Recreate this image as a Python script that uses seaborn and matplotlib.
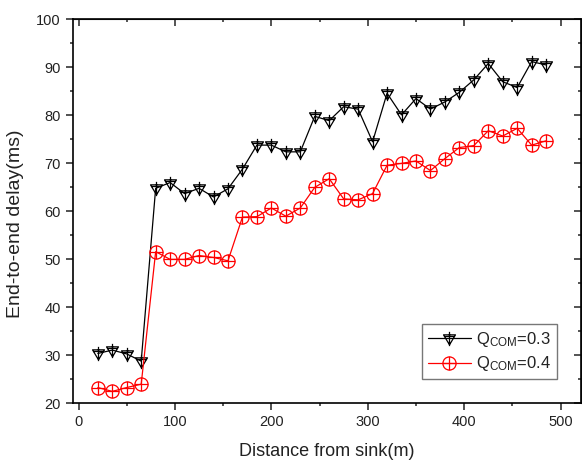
import numpy as np
import pandas as pd
import matplotlib
matplotlib.use('Agg')
import matplotlib.pyplot as plt
from matplotlib.path import Path
from matplotlib.ticker import MultipleLocator
import seaborn as sns

# distance from sink (m)
distance = [20, 35, 50, 65, 80, 95, 110, 125, 140, 155, 170, 185, 200, 215, 230, 245,
            260, 275, 290, 305, 320, 335, 350, 365, 380, 395, 410, 425, 440, 455, 470, 485]

# end-to-end delay (ms)
delay_q03 = [30.4, 31.1, 30.3, 28.8, 64.8, 66.0, 63.7, 64.8, 63.0, 64.7, 68.8, 73.8,
             73.8, 72.4, 72.4, 79.8, 78.9, 81.8, 81.3, 74.5, 84.6, 80.1, 83.5, 81.3,
             82.8, 84.8, 87.4, 90.8, 87.0, 85.8, 91.2, 90.5]
delay_q04 = [23.3, 22.5, 23.3, 24.0, 51.6, 50.0, 50.0, 50.8, 50.4, 49.7, 58.8, 58.9,
             60.7, 59.0, 60.7, 65.0, 66.8, 62.6, 62.4, 63.7, 69.6, 70.0, 70.5, 68.5,
             71.0, 73.3, 73.7, 76.8, 75.7, 77.3, 73.8, 74.7]

labels = ['Q$_{COM}$=0.3', 'Q$_{COM}$=0.4']
colors = ['black', 'red']

sns.set_style('ticks')
plt.rcParams['font.family'] = ['Liberation Sans', 'DejaVu Sans']
plt.rcParams['mathtext.default'] = 'regular'

# custom markers: down-triangle with a cross, and circle with a plus
tri_plus = Path.make_compound_path(
    Path([(-0.9, 0.55), (0.9, 0.55), (0.0, -0.95), (-0.9, 0.55)],
         [Path.MOVETO, Path.LINETO, Path.LINETO, Path.CLOSEPOLY]),
    Path([(0.0, 1.0), (0.0, -1.15)], [Path.MOVETO, Path.LINETO]),
    Path([(-0.75, 0.3), (0.75, 0.3)], [Path.MOVETO, Path.LINETO]),
)
circ_plus = Path.make_compound_path(
    Path.unit_circle(),
    Path([(0.0, 1.0), (0.0, -1.0)], [Path.MOVETO, Path.LINETO]),
    Path([(-1.0, 0.0), (1.0, 0.0)], [Path.MOVETO, Path.LINETO]),
)

df = pd.DataFrame({'Distance': distance, 'q03': delay_q03, 'q04': delay_q04})

fig = plt.figure(figsize=(5.82, 4.61), dpi=100)
ax = fig.add_axes([0.125, 0.125, 0.873, 0.833])

sns.lineplot(data=df, x='Distance', y='q03', ax=ax, color=colors[0], lw=0.9,
             marker=tri_plus, markersize=11, markerfacecolor='none',
             markeredgecolor=colors[0], markeredgewidth=0.9, label=labels[0])
sns.lineplot(data=df, x='Distance', y='q04', ax=ax, color=colors[1], lw=0.9,
             marker=circ_plus, markersize=9.5, markerfacecolor='none',
             markeredgecolor=colors[1], markeredgewidth=0.9, label=labels[1])

ax.set_xlim(-6, 521)
ax.set_ylim(20, 100)
ax.xaxis.set_major_locator(MultipleLocator(100))
ax.xaxis.set_minor_locator(MultipleLocator(50))
ax.yaxis.set_major_locator(MultipleLocator(10))
ax.yaxis.set_minor_locator(MultipleLocator(5))
ax.tick_params(which='major', direction='out', length=5, width=1.1, labelsize=10.5,
               colors='#222222')
ax.tick_params(which='minor', direction='out', length=2.5, width=1.1)

# mirrored ticks on top/right pointing inward
top = ax.secondary_xaxis('top')
top.xaxis.set_major_locator(MultipleLocator(100))
top.xaxis.set_minor_locator(MultipleLocator(50))
top.tick_params(which='major', direction='in', length=5, width=1.1, labeltop=False)
top.tick_params(which='minor', direction='in', length=2.5, width=1.1)
right = ax.secondary_yaxis('right')
right.yaxis.set_major_locator(MultipleLocator(10))
right.yaxis.set_minor_locator(MultipleLocator(5))
right.tick_params(which='major', direction='in', length=5, width=1.1, labelright=False)
right.tick_params(which='minor', direction='in', length=2.5, width=1.1)

for sp in ax.spines.values():
    sp.set_linewidth(1.2)
    sp.set_color('black')
    sp.set_visible(True)

ax.set_xlabel('Distance from sink(m)', fontsize=13, color='#222222', labelpad=10)
ax.set_ylabel('End-to-end delay(ms)', fontsize=14, color='#222222')
ax.yaxis.set_label_coords(-0.096, 0.467)

leg = ax.legend(loc='lower right', bbox_to_anchor=(0.953, 0.063), borderaxespad=0,
                fontsize=12, frameon=True, fancybox=False, handlelength=2.6,
                handletextpad=0.3, borderpad=0.35, labelspacing=0.35)
leg.get_frame().set_edgecolor('#555555')
leg.get_frame().set_linewidth(1.0)
for t in leg.get_texts():
    t.set_color('#222222')

fig.savefig('out.png', dpi=100)
